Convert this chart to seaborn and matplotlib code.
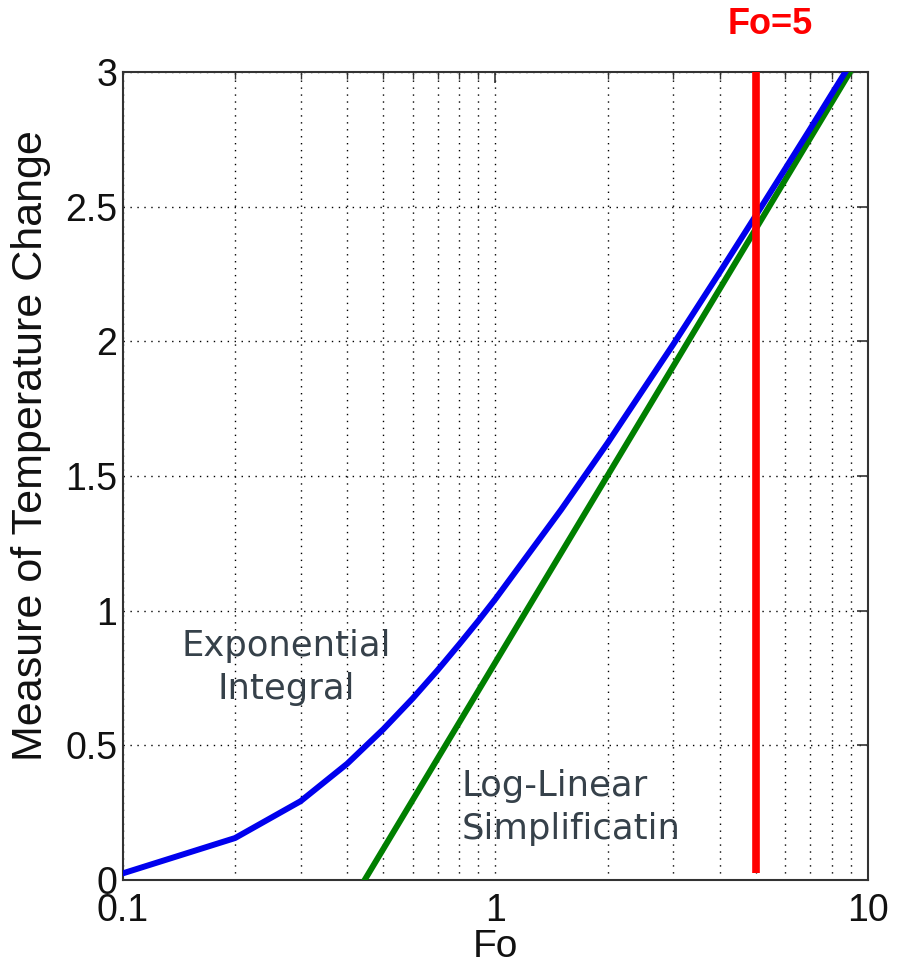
import matplotlib
matplotlib.use("Agg")
import matplotlib.pyplot as plt
import seaborn as sns
import pandas as pd
from matplotlib.ticker import LogLocator, NullFormatter

# Data
fo_exp = [0.1, 0.2, 0.3, 0.4, 0.5, 0.6, 0.7, 0.8, 0.9, 1.0, 1.5, 2, 3, 4, 5, 6, 7, 8, 9, 10]
val_exp = [0.025, 0.156, 0.293, 0.432, 0.560, 0.675, 0.780, 0.876, 0.963, 1.044,
           1.375, 1.623, 1.989, 2.257, 2.468, 2.642, 2.790, 2.920, 3.034, 3.137]
fo_lin = [0.1, 1.0, 10]
val_lin = [-1.494, 0.809, 3.112]
fo_mark = [5, 5]
val_mark = [0.026, 3.0]
xticks = [0.1, 1, 10]
xticklabels = ["0.1", "1", "10"]
yticks = [0, 0.5, 1, 1.5, 2, 2.5, 3]
yticklabels = ["0", "0.5", "1", "1.5", "2", "2.5", "3"]

sns.set_theme(style="white")
plt.rcParams['font.family'] = ['Liberation Sans', 'DejaVu Sans']

fig = plt.figure(figsize=(9.1, 9.65), dpi=100)
ax = fig.add_axes([0.135, 0.088, 0.819, 0.8374])

df_exp = pd.DataFrame({"Fo": fo_exp, "v": val_exp})
df_lin = pd.DataFrame({"Fo": fo_lin, "v": val_lin})
df_mark = pd.DataFrame({"Fo": fo_mark, "v": val_mark})

sns.lineplot(data=df_lin, x="Fo", y="v", ax=ax, color="#007f00", lw=4.3, sort=False,
             estimator=None, zorder=3)
sns.lineplot(data=df_exp, x="Fo", y="v", ax=ax, color="#0000ee", lw=4.3, sort=False,
             estimator=None, zorder=4)
sns.lineplot(data=df_mark, x="Fo", y="v", ax=ax, color="#ff0000", lw=5.5, sort=False,
             estimator=None, zorder=5, solid_capstyle="butt")

ax.set_xscale("log")
ax.set_xlim(0.1, 10)
ax.set_ylim(0, 3)
ax.set_xticks(xticks)
ax.set_xticklabels(xticklabels)
ax.xaxis.set_minor_locator(LogLocator(base=10, subs=[2, 3, 4, 5, 6, 7, 8, 9]))
ax.xaxis.set_minor_formatter(NullFormatter())
ax.set_yticks(yticks)
ax.set_yticklabels(yticklabels)

ax.grid(True, which="major", axis="both", color="black", linestyle=(0, (1, 4)), lw=1)
ax.grid(True, which="minor", axis="x", color="black", linestyle=(0, (1, 4)), lw=1)

for s in ax.spines.values():
    s.set_color("#333333")
    s.set_linewidth(1.5)
ax.tick_params(which="both", direction="in", top=True, right=True, color="#333333",
               labelsize=27)
ax.tick_params(axis="x", which="both", pad=9)
ax.tick_params(axis="y", which="both", pad=4)
ax.tick_params(which="major", length=8, width=1.2)
ax.tick_params(which="minor", length=5, width=1.0)
for lab in ax.get_xticklabels() + ax.get_yticklabels():
    lab.set_color("#111111")

ax.set_xlabel("Fo", fontsize=28, color="#111111", labelpad=0)
ax.set_ylabel("Measure of Temperature Change", fontsize=31, color="#111111")
ax.yaxis.set_label_coords(-0.097, 0.538)

ann_color = "#36414a"
ax.text(0.275, 0.79, "Exponential\nIntegral", fontsize=25.5, color=ann_color,
        family="DejaVu Sans", ha="center", va="center", linespacing=1.35, zorder=6)
ax.text(0.81, 0.27, "Log-Linear\nSimplificatin", fontsize=25.5, color=ann_color,
        family="DejaVu Sans", ha="left", va="center", linespacing=1.35, zorder=6)

fig.text(770 / 910, 1 - 25 / 965, "Fo=5", fontsize=26, color="#ff0000", fontweight="bold",
         family="Liberation Sans", ha="center", va="center")

fig.savefig("out.png", dpi=100)
